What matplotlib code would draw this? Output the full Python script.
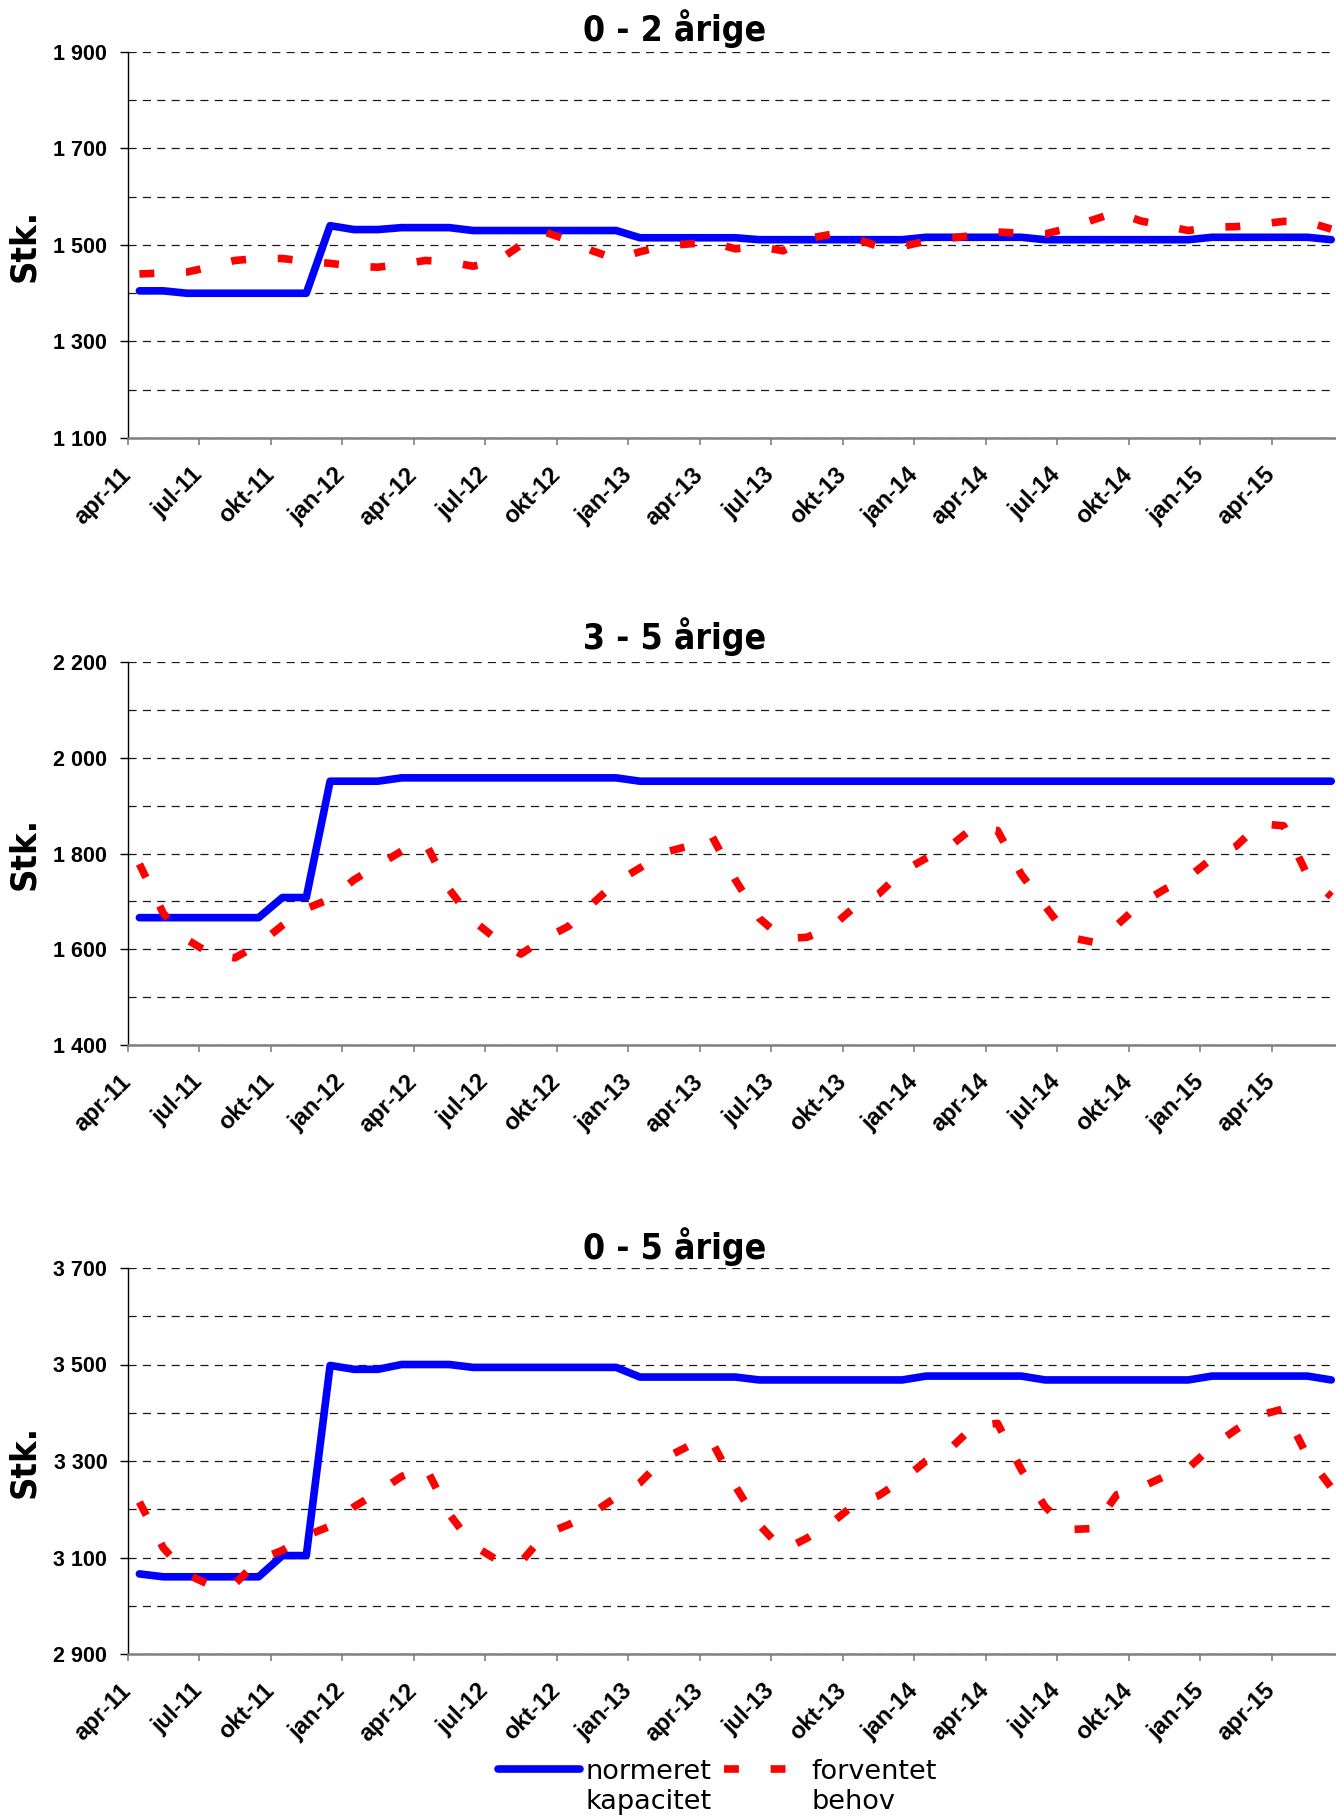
import matplotlib
matplotlib.use('Agg')
import matplotlib.pyplot as plt
import matplotlib.transforms as mtransforms
from matplotlib.lines import Line2D

# figure in pixels (dpi 100)
W, H = 1336, 1816

# x axis: one category per month, apr-11 .. jun-15 (51 months)
x_labels = ['apr-11', 'jul-11', 'okt-11', 'jan-12', 'apr-12', 'jul-12', 'okt-12',
            'jan-13', 'apr-13', 'jul-13', 'okt-13', 'jan-14', 'apr-14', 'jul-14',
            'okt-14', 'jan-15', 'apr-15']

titles = ['0 - 2 årige', '3 - 5 årige', '0 - 5 årige']
legend_labels = ['normeret\nkapacitet', 'forventet\nbehov']

# 0 - 2 årige
kap_02 = [1405, 1405, 1400, 1400, 1400, 1400, 1400, 1400, 1540, 1532,
          1532, 1536, 1536, 1536, 1530, 1530, 1530, 1530, 1530, 1530,
          1530, 1515, 1515, 1515, 1515, 1515, 1511, 1511, 1511, 1511,
          1511, 1511, 1511, 1516, 1516, 1516, 1516, 1516, 1511, 1511,
          1511, 1511, 1511, 1511, 1511, 1516, 1516, 1516, 1516, 1516,
          1511]
beh_02 = [1440, 1442, 1444, 1455, 1468, 1472, 1472, 1466, 1462, 1456,
          1454, 1460, 1468, 1465, 1456, 1466, 1500, 1527, 1510, 1488,
          1471, 1486, 1498, 1502, 1506, 1492, 1497, 1488, 1513, 1522,
          1514, 1497, 1497, 1508, 1514, 1520, 1527, 1524, 1523, 1535,
          1552, 1568, 1550, 1540, 1530, 1537, 1538, 1543, 1549, 1548,
          1533]

# 3 - 5 årige
kap_35 = [1666, 1666, 1666, 1666, 1666, 1666, 1708, 1708, 1951, 1951,
          1951, 1958, 1958, 1958, 1958, 1958, 1958, 1958, 1958, 1958,
          1958, 1951, 1951, 1951, 1951, 1951, 1951, 1951, 1951, 1951,
          1951, 1951, 1951, 1951, 1951, 1951, 1951, 1951, 1951, 1951,
          1951, 1951, 1951, 1951, 1951, 1951, 1951, 1951, 1951, 1951,
          1951]
beh_35 = [1778, 1675, 1620, 1590, 1582, 1610, 1650, 1685, 1705, 1745,
          1775, 1805, 1822, 1725, 1660, 1620, 1590, 1622, 1648, 1695,
          1740, 1770, 1802, 1815, 1838, 1745, 1665, 1622, 1625, 1645,
          1688, 1715, 1762, 1790, 1815, 1855, 1848, 1756, 1690, 1625,
          1615, 1650, 1695, 1725, 1750, 1790, 1815, 1862, 1858, 1755,
          1710]

# 0 - 5 årige
kap_05 = [3066, 3060, 3060, 3060, 3060, 3060, 3104, 3104, 3498, 3490,
          3490, 3500, 3500, 3500, 3494, 3494, 3494, 3494, 3494, 3494,
          3494, 3474, 3474, 3474, 3474, 3474, 3468, 3468, 3468, 3468,
          3468, 3468, 3468, 3476, 3476, 3476, 3476, 3476, 3468, 3468,
          3468, 3468, 3468, 3468, 3468, 3476, 3476, 3476, 3476, 3476,
          3468]
beh_05 = [3215, 3120, 3065, 3042, 3045, 3095, 3115, 3145, 3165, 3205,
          3235, 3268, 3288, 3190, 3125, 3095, 3090, 3148, 3168, 3192,
          3225, 3255, 3305, 3330, 3342, 3248, 3168, 3115, 3140, 3170,
          3210, 3228, 3260, 3300, 3325, 3372, 3378, 3282, 3205, 3158,
          3160, 3230, 3245, 3268, 3285, 3330, 3365, 3395, 3408, 3310,
          3245]

y_ranges = [(1100, 1900), (1400, 2200), (2900, 3700)]

BLUE = '#0000FF'
RED = '#FF0000'
LW = 5.5
RED_DASH = (1.95, 4.15)
# tick labels: Arial-like bold, headings: condensed bold sans
TICK_FAMILY = 'Liberation Sans'
XTICK_SIZE = 17
YTICK_SIZE = 15.5
TITLE_FONT = dict(family='DejaVu Sans', stretch='condensed', fontweight='bold',
                  fontsize=25.5)
YLAB_FONT = dict(family='DejaVu Sans', stretch='condensed', fontweight='bold',
                 fontsize=26)

# axes boxes in pixels: (top, bottom)
panel_px = [(52, 438), (662, 1045), (1268, 1654)]
title_y_px = [29, 637, 1247]
LEFT_PX = 127.5


def fmt(v):
    return '{:,}'.format(v).replace(',', ' ')


def drawPanel(fig, k, kap, beh):
    top, bot = panel_px[k]
    ax = fig.add_axes([LEFT_PX / W, 1 - bot / H, 1 - LEFT_PX / W, (bot - top) / H])
    x = list(range(len(kap)))
    ax.plot(x, kap, color=BLUE, lw=LW, solid_capstyle='round',
            solid_joinstyle='round', zorder=3)
    ax.plot(x, beh, color=RED, lw=LW, dashes=RED_DASH, dash_capstyle='butt',
            zorder=4)

    y0, y1 = y_ranges[k]
    ax.set_ylim(y0, y1)
    ax.set_xlim(-0.5, 50.2)

    major = list(range(y0, y1 + 1, 200))
    minor = list(range(y0, y1 + 1, 100))
    ax.set_yticks(major)
    ax.set_yticklabels([fmt(v) for v in major])
    ax.set_yticks(minor, minor=True)
    ax.tick_params(axis='y', which='major', direction='out', length=6, width=1,
                   pad=8.5, colors='black')
    ax.tick_params(axis='y', which='minor', length=0)
    ax.yaxis.grid(True, which='both', color='#1a1a1a', lw=0.9,
                  dashes=(6.5, 5.0), zorder=1)
    ax.set_axisbelow(True)

    xt = [3 * j - 0.5 for j in range(len(x_labels))]
    ax.set_xticks(xt)
    ax.set_xticklabels(x_labels, rotation=45, ha='right', va='top',
                       rotation_mode='anchor')
    ax.tick_params(axis='x', direction='out', length=5, width=1.2, pad=13,
                   color='#808080', labelcolor='black')
    # labels sit a little left of their tick, as in the original
    shift = mtransforms.ScaledTranslation(-8 / 100, 0, fig.dpi_scale_trans)
    for lab in ax.get_xticklabels():
        lab.set_transform(lab.get_transform() + shift)
        lab.set_family(TICK_FAMILY)
        lab.set_fontweight('bold')
        lab.set_fontsize(XTICK_SIZE)
    for lab in ax.get_yticklabels():
        lab.set_family(TICK_FAMILY)
        lab.set_fontweight('bold')
        lab.set_fontsize(YTICK_SIZE)

    for s in ['top', 'right']:
        ax.spines[s].set_visible(False)
    ax.spines['left'].set_color('black')
    ax.spines['left'].set_linewidth(1.0)
    ax.spines['bottom'].set_color('#808080')
    ax.spines['bottom'].set_linewidth(1.8)

    ax.text(-0.0858, 0.5, 'Stk.', transform=ax.transAxes, rotation=90,
            ha='center', va='center', **YLAB_FONT)
    fig.text(675 / W, 1 - title_y_px[k] / H, titles[k], ha='center', va='center',
             **TITLE_FONT)
    return ax


def px(xp, yp):
    return xp / W, 1 - yp / H


fig = plt.figure(figsize=(W / 100, H / 100), dpi=100)
drawPanel(fig, 0, kap_02, beh_02)
drawPanel(fig, 1, kap_35, beh_35)
drawPanel(fig, 2, kap_05, beh_05)

# legend below the last chart
(xa, ya), (xb, _) = px(498, 1769), px(580, 1769)
fig.add_artist(Line2D([xa, xb], [ya, ya], transform=fig.transFigure, color=BLUE,
                      lw=LW, solid_capstyle='round'))
(xa, ya), (xb, _) = px(724, 1769), px(804, 1769)
fig.add_artist(Line2D([xa, xb], [ya, ya], transform=fig.transFigure, color=RED,
                      lw=LW, dashes=RED_DASH, dash_capstyle='butt'))
tx, ty = px(585, 1759)
fig.text(tx, ty, legend_labels[0], ha='left', va='top', fontsize=19.5,
         family='DejaVu Sans', linespacing=1.22)
tx, ty = px(811, 1759)
fig.text(tx, ty, legend_labels[1], ha='left', va='top', fontsize=19.5,
         family='DejaVu Sans', linespacing=1.22)

fig.savefig('out.png', dpi=100)
